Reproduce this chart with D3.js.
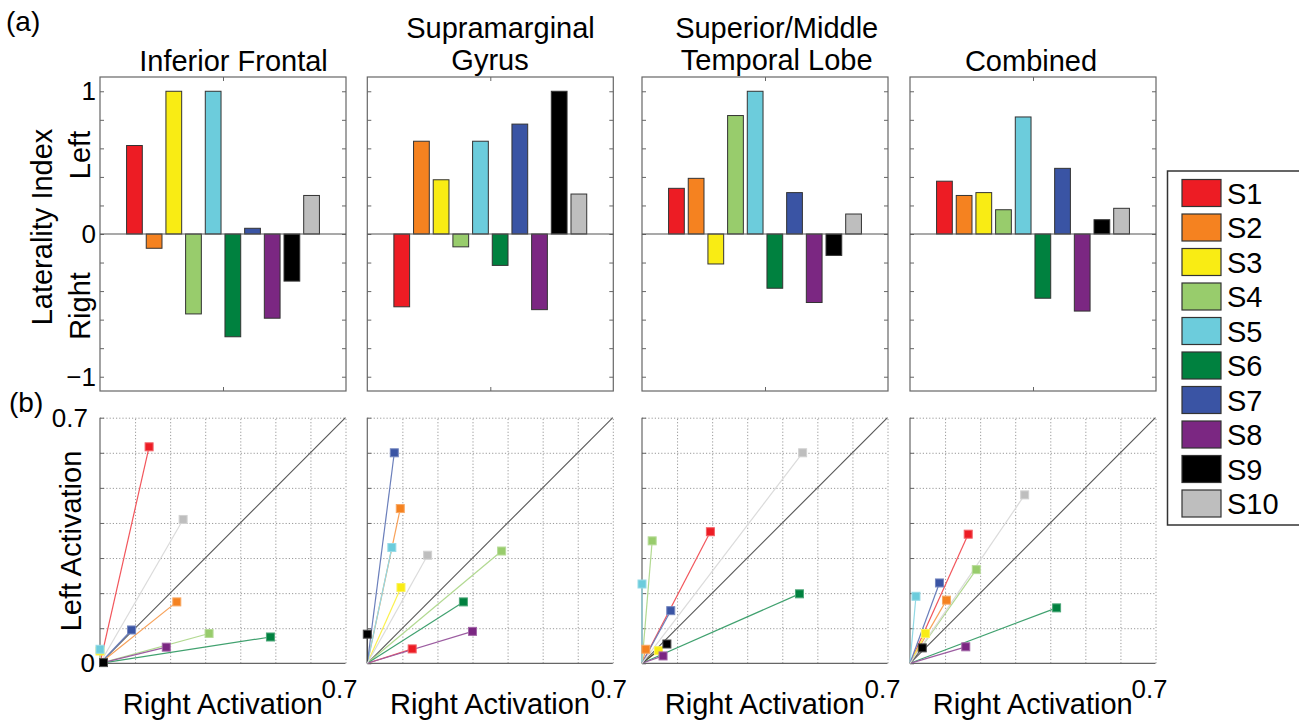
<!DOCTYPE html>
<html><head><meta charset="utf-8">
<script src="https://cdn.jsdelivr.net/npm/d3@7"></script>
<style>
body{margin:0;background:#fff}
svg{display:block}
text{font-family:"Liberation Sans",Arial,Helvetica,sans-serif;fill:#000}
</style>
</head><body>
<svg id="c" width="1299" height="720"></svg>
<script>
// ---------- DATA ----------
const subjects = ["S1","S2","S3","S4","S5","S6","S7","S8","S9","S10"];
const subjectColors = ["#ED1C24","#F58220","#F9EC14","#98CC6C","#6CCCDC","#00813F","#3A54A4","#7B2782","#000000","#BEBEBE"];
const regionTitles = [["Inferior Frontal"],["Supramarginal","Gyrus"],["Superior/Middle","Temporal Lobe"],["Combined"]];

// (a) laterality index per subject
const liInferiorFrontal = [0.62,-0.10,1.00,-0.56,1.00,-0.72,0.04,-0.59,-0.33,0.27];
const liSupramarginal   = [-0.51,0.65,0.38,-0.09,0.65,-0.22,0.77,-0.53,1.00,0.28];
const liTemporal        = [0.32,0.39,-0.21,0.83,1.00,-0.38,0.29,-0.48,-0.15,0.14];
const liCombined        = [0.37,0.27,0.29,0.17,0.82,-0.45,0.46,-0.54,0.10,0.18];

// (b) right / left activation per subject
const rightInferiorFrontal = [0.140,0.219,0.000,0.311,0.000,0.486,0.090,0.189,0.010,0.237];
const leftInferiorFrontal  = [0.617,0.175,0.035,0.085,0.040,0.075,0.095,0.046,0.002,0.410];
const rightSupramarginal   = [0.128,0.094,0.096,0.383,0.070,0.274,0.077,0.300,0.000,0.172];
const leftSupramarginal    = [0.041,0.441,0.216,0.320,0.330,0.175,0.600,0.091,0.083,0.308];
const rightTemporal        = [0.195,0.011,0.047,0.029,0.000,0.449,0.082,0.060,0.071,0.458];
const leftTemporal         = [0.375,0.040,0.036,0.349,0.226,0.198,0.150,0.021,0.055,0.600];
const rightCombined        = [0.166,0.104,0.044,0.189,0.017,0.418,0.084,0.159,0.035,0.327];
const leftCombined         = [0.368,0.180,0.085,0.267,0.191,0.158,0.229,0.047,0.044,0.480];

const liTickValues = [-1,0,1];
const activationTickLabels = ["0","0.7"];

// ---------- LAYOUT ----------
const svg = d3.select("#c");
const FONT = 29;
const panelX = [100, 367.3, 642, 910];
const PW = 246;
const topY = [77, 391];
const botY = [417.7, 663.3];
const liSeries = [liInferiorFrontal, liSupramarginal, liTemporal, liCombined];
const rightSeries = [rightInferiorFrontal, rightSupramarginal, rightTemporal, rightCombined];
const leftSeries = [leftInferiorFrontal, leftSupramarginal, leftTemporal, leftCombined];
const titleCenters = [[233.5],[500.5,490],[776.7,776.7],[1031]];
const axisGray = "#666";

function lighten(c, t){ return d3.interpolateRgb(c, "#ffffff")(t); }

// ---------- (a) BAR PANELS ----------
const yLI = d3.scaleLinear().domain([-1.1,1.1]).range([topY[1], topY[0]]);
liSeries.forEach((vals, p) => {
  const x0 = panelX[p];
  const x = d3.scaleLinear().domain([-0.75, 11.75]).range([x0, x0 + PW]);
  const g = svg.append("g");

  g.append("rect").attr("x", x0).attr("y", topY[0]).attr("width", PW).attr("height", topY[1]-topY[0])
    .attr("fill","none").attr("stroke", axisGray).attr("stroke-width",1.2);

  const minor = d3.range(-10, 11, 2).map(d => d/10);
  const lAx = g.append("g").attr("transform",`translate(${x0},0)`)
    .call(d3.axisLeft(yLI).tickValues(minor).tickSize(-4).tickFormat(""));
  const rAx = g.append("g").attr("transform",`translate(${x0+PW},0)`)
    .call(d3.axisRight(yLI).tickValues(minor).tickSize(-4).tickFormat(""));
  const tAx = g.append("g").attr("transform",`translate(0,${topY[0]})`)
    .call(d3.axisTop(x).tickValues([5.5]).tickSize(-4).tickFormat(""));
  const bAx = g.append("g").attr("transform",`translate(0,${topY[1]})`)
    .call(d3.axisBottom(x).tickValues([5.5]).tickSize(-4).tickFormat(""));
  [lAx,rAx,tAx,bAx].forEach(a => { a.select(".domain").remove(); a.selectAll("line").attr("stroke", axisGray); });

  g.selectAll("rect.bar").data(vals).enter().append("rect").attr("class","bar")
    .attr("x", (d,i) => x(i+1) - x(0.4) + x(0))
    .attr("width", x(0.8) - x(0))
    .attr("y", d => yLI(Math.max(0,d)))
    .attr("height", d => Math.abs(yLI(d) - yLI(0)))
    .attr("fill", (d,i) => subjectColors[i])
    .attr("stroke", "#333").attr("stroke-width", 1);

  g.append("line").attr("x1", x0).attr("x2", x0+PW).attr("y1", yLI(0)).attr("y2", yLI(0))
    .attr("stroke", "#555").attr("stroke-width", 1.2);

  if (p === 0) {
    const la = g.append("g").attr("transform",`translate(${x0},0)`)
      .call(d3.axisLeft(yLI).tickValues(liTickValues).tickSize(0).tickPadding(4).tickFormat(d3.format("d")));
    la.select(".domain").remove();
    la.selectAll("text").attr("font-size", 26).attr("font-family", "Liberation Sans, Arial, sans-serif");
  }

  regionTitles[p].forEach((t, k) => {
    const n = regionTitles[p].length;
    const baseY = n === 1 ? 71 : (k === 0 ? 37.5 : 70);
    svg.append("text").attr("x", titleCenters[p][k]).attr("y", baseY)
      .attr("text-anchor","middle").attr("font-size", FONT).text(t);
  });
});

svg.append("text").attr("transform","translate(52,227) rotate(-90)").attr("text-anchor","middle")
  .attr("font-size", FONT).text("Laterality Index");
svg.append("text").attr("transform","translate(90,155) rotate(-90)").attr("text-anchor","middle")
  .attr("font-size", FONT).text("Left");
svg.append("text").attr("transform","translate(90,306) rotate(-90)").attr("text-anchor","middle")
  .attr("font-size", FONT).text("Right");
svg.append("text").attr("x", 6).attr("y", 31).attr("font-size", 28).text("(a)");
svg.append("text").attr("x", 9).attr("y", 412).attr("font-size", 28).text("(b)");

// ---------- (b) SCATTER PANELS ----------
const yAct = d3.scaleLinear().domain([0,0.7]).range([botY[1], botY[0]]);
const actTicks = d3.range(0, 8).map(d => d/10);
const x07Offset = [-6, -4, -5, -6];
rightSeries.forEach((rv, p) => {
  const lv = leftSeries[p];
  const x0 = panelX[p];
  const W = 245.5;
  const x = d3.scaleLinear().domain([0,0.7]).range([x0, x0 + W]);
  const g = svg.append("g");

  const gx = g.append("g").attr("transform",`translate(0,${botY[1]})`)
    .call(d3.axisBottom(x).tickValues(actTicks.slice(1)).tickSize(-(botY[1]-botY[0])).tickFormat(""));
  const gy = g.append("g").attr("transform",`translate(${x0},0)`)
    .call(d3.axisLeft(yAct).tickValues(actTicks.slice(1)).tickSize(-W).tickFormat(""));
  [gx,gy].forEach(a => { a.select(".domain").remove();
    a.selectAll("line").attr("stroke","#999").attr("stroke-width",1).attr("stroke-dasharray","1.2,2"); });

  const tk = g.append("g").attr("transform",`translate(${x0},0)`)
    .call(d3.axisLeft(yAct).tickValues(actTicks).tickSize(-4).tickFormat(""));
  tk.select(".domain").remove(); tk.selectAll("line").attr("stroke", axisGray);

  g.append("line").attr("x1", x0).attr("x2", x0).attr("y1", botY[0]).attr("y2", botY[1]).attr("stroke", axisGray).attr("stroke-width",1.2);
  g.append("line").attr("x1", x0).attr("x2", x0+W).attr("y1", botY[1]).attr("y2", botY[1]).attr("stroke", axisGray).attr("stroke-width",1.2);

  g.append("line").attr("x1", x(0)).attr("y1", yAct(0)).attr("x2", x(0.7)).attr("y2", yAct(0.7))
    .attr("stroke", "#555").attr("stroke-width", 1.1);

  rv.forEach((r, i) => {
    g.append("line").attr("x1", x(0)).attr("y1", yAct(0)).attr("x2", x(r)).attr("y2", yAct(lv[i]))
      .attr("stroke", lighten(subjectColors[i], i === 9 ? 0.45 : 0.25)).attr("stroke-width", 1.2);
  });
  const S = 8;
  rv.forEach((r, i) => {
    g.append("rect").attr("x", x(r) - S/2).attr("y", yAct(lv[i]) - S/2).attr("width", S).attr("height", S)
      .attr("fill", subjectColors[i]).attr("stroke", lighten(subjectColors[i], 0.3)).attr("stroke-width", 1);
  });

  svg.append("text").attr("x", x(0.7) + x07Offset[p]).attr("y", 698).attr("text-anchor","middle")
    .attr("font-size", 26).text(activationTickLabels[1]);
  svg.append("text").attr("x", x0 + W/2).attr("y", 714).attr("text-anchor","middle")
    .attr("font-size", FONT).text("Right Activation");

  if (p === 0) {
    const la = g.append("g").attr("transform",`translate(${x0},0)`)
      .call(d3.axisLeft(yAct).tickValues([0,0.7]).tickSize(0).tickPadding(5)
        .tickFormat((d,i) => activationTickLabels[i]));
    la.select(".domain").remove();
    la.selectAll("text").attr("font-size", 26).attr("font-family", "Liberation Sans, Arial, sans-serif");
    la.selectAll("text").filter(d => d === 0.7).attr("x", -12);
  }
});

svg.append("text").attr("transform","translate(81,541) rotate(-90)").attr("text-anchor","middle")
  .attr("font-size", FONT).text("Left Activation");

// ---------- LEGEND ----------
const lg = svg.append("g");
lg.append("rect").attr("x", 1167.5).attr("y", 171).attr("width", 140).attr("height", 354)
  .attr("fill","#fff").attr("stroke","#333").attr("stroke-width",1.5);
const ly = d3.scalePoint().domain(subjects).range([193, 503.5]);
subjects.forEach((s, i) => {
  lg.append("rect").attr("x", 1182).attr("y", ly(s) - 13.5).attr("width", 39).attr("height", 27)
    .attr("fill", subjectColors[i]).attr("stroke", "#333").attr("stroke-width", 1.2);
  lg.append("text").attr("x", 1227).attr("y", ly(s) + 10.5).attr("font-size", FONT).text(s);
});
</script>
</body></html>
